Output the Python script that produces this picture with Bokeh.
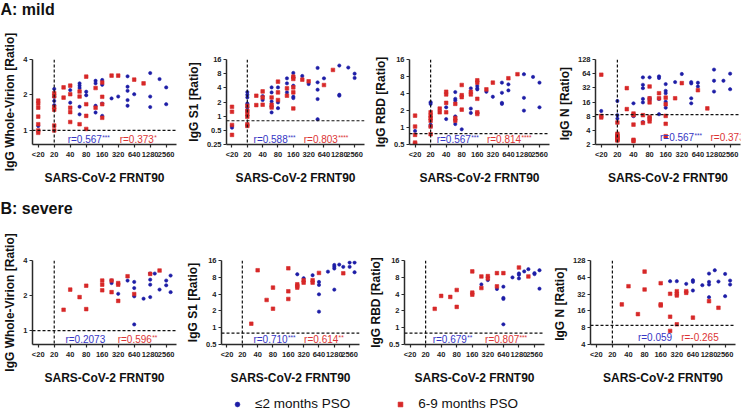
from bokeh.plotting import figure
from bokeh.models import (Range1d, FixedTicker, CustomJSTickFormatter, Span, Label,
                          Legend, LegendItem)
from bokeh.layouts import column, row
from bokeh.embed import file_html
from bokeh.resources import INLINE

# ---------------- data ----------------
X_TICKS = [10, 20, 40, 80, 160, 320, 640, 1280, 2560]
X_LABEL = "SARS-CoV-2 FRNT90"
SERIES_NAMES = ["≤2 months PSO", "6-9 months PSO"]

# A: mild -- Whole-Virion
A1_BLUE_X = [10, 20, 20, 20, 20, 40, 40, 60, 60, 60, 60, 60, 80, 80, 120, 120, 120, 120,
             160, 160, 160, 160, 240, 320, 480, 480, 480, 480, 480, 640, 1280, 1280, 1280, 1920, 2560, 2560]
A1_BLUE_Y = [1.09, 2.25, 1.93, 1.78, 1.64, 2.20, 1.72, 2.51, 2.40, 2.29, 1.59, 1.37, 2.13, 1.99, 2.64, 2.51, 1.62, 1.42,
             2.68, 2.44, 1.69, 1.33, 1.87, 1.94, 2.88, 2.35, 2.17, 1.81, 1.62, 2.03, 3.07, 1.94, 1.58, 2.73, 2.32, 1.67]
A1_RED_X = [10, 10, 10, 10, 10, 10, 10, 20, 20, 20, 20, 20, 20, 30, 30, 40, 40, 40, 40, 40, 60, 60, 60,
            80, 80, 80, 80, 120, 120, 160, 160, 160, 160, 240, 320, 640, 960]
A1_RED_Y = [1.79, 1.69, 1.56, 1.31, 1.13, 1.0, 0.955, 2.07, 1.95, 1.58, 1.50, 1.10, 1.0, 2.32, 1.90, 2.40, 2.03, 1.56, 1.43, 1.18,
            2.14, 1.94, 1.13, 2.86, 1.67, 1.33, 1.03, 2.29, 1.56, 2.55, 1.93, 1.67, 1.28, 2.92, 2.92, 2.70, 2.51]

# A: mild -- S1
A2_BLUE_X = [10, 10, 20, 20, 20, 20, 20, 20, 40, 40, 60, 60, 60, 60, 60, 80, 80, 80, 120, 120, 120,
             160, 160, 160, 160, 160, 240, 320, 480, 480, 480, 480, 480, 640, 1280, 1280, 1280, 1920, 2560, 2560]
A2_BLUE_Y = [0.62, 0.57, 3.25, 2.85, 2.50, 1.86, 1.53, 1.30, 2.67, 2.20, 4.09, 3.20, 2.06, 1.58, 1.20, 4.09, 1.96, 1.48,
             6.37, 4.98, 3.20, 8.28, 6.69, 4.44, 2.59, 2.42, 7.14, 4.82, 10.6, 5.23, 3.65, 2.31, 0.86, 6.37,
             11.9, 2.85, 2.72, 10.8, 8.0, 6.48]
A2_RED_X = [10, 10, 10, 10, 20, 20, 20, 20, 20, 20, 30, 30, 40, 40, 40, 60, 60, 60, 80, 80, 80, 120, 120,
            160, 160, 160, 160, 160, 240, 320, 640, 960]
A2_RED_Y = [1.58, 1.24, 0.65, 0.40, 1.66, 1.30, 1.10, 0.97, 0.67, 0.62, 2.72, 1.72, 3.36, 2.50, 1.75, 2.50, 1.75, 1.53,
            5.41, 3.20, 2.20, 3.90, 2.72, 6.91, 6.17, 4.09, 3.20, 1.46, 5.97, 5.50, 4.59, 9.6]

# A: mild -- RBD
A3_BLUE_X = [10, 20, 20, 20, 20, 40, 40, 60, 60, 60, 60, 60, 60, 80, 120, 120, 120, 160, 160, 160, 160,
             240, 320, 480, 480, 480, 480, 640, 640, 1280, 1280, 1280, 1920, 2560, 2560]
A3_BLUE_Y = [0.87, 2.81, 2.62, 1.12, 1.04, 2.28, 1.41, 4.24, 3.22, 3.0, 1.57, 1.37, 1.15, 0.93, 4.93, 2.16, 1.81,
             5.43, 4.93, 4.73, 1.81, 4.30, 3.50, 6.23, 4.12, 2.73, 2.62, 5.81, 4.54, 8.78, 3.35, 1.99, 7.87, 6.23, 2.28]
A3_RED_X = [10, 10, 10, 10, 10, 20, 20, 20, 20, 20, 20, 30, 30, 40, 40, 40, 40, 60, 60, 60, 80, 80, 80, 80,
            120, 120, 160, 160, 160, 160, 160, 240, 320, 640, 960]
A3_RED_Y = [1.62, 1.04, 0.74, 0.54, 0.51, 1.86, 1.62, 1.47, 1.32, 1.04, 0.76, 2.16, 1.86, 4.30, 3.85, 2.73, 1.86,
            2.62, 1.47, 1.32, 5.66, 3.74, 3.45, 2.07, 4.30, 3.85, 6.86, 6.23, 3.22, 1.86, 1.73, 4.73, 6.23, 7.45, 8.78]

# A: mild -- N
A4_BLUE_X = [10, 20, 20, 20, 40, 40, 60, 60, 60, 60, 60, 60, 80, 80, 80, 120, 120, 120, 120,
             160, 160, 160, 160, 160, 240, 320, 480, 480, 480, 480, 640, 640, 1280, 1280, 1280, 1920, 2560, 2560]
A4_BLUE_Y = [10.3, 16.8, 8.4, 7.1, 15.0, 8.0, 53.4, 37.1, 31.5, 18.6, 15.7, 6.0, 53.4, 19.2, 17.7, 56.1, 51.7, 18.6, 8.8,
             38.4, 27.6, 24.6, 16.3, 12.1, 42.4, 63, 42.4, 39.7, 19.2, 15.0, 41.0, 34.2, 78, 45.3, 26.7, 45.3, 64, 29.9]
A4_RED_X = [10, 10, 10, 20, 20, 20, 20, 20, 20, 20, 20, 30, 30, 40, 40, 40, 40, 40, 60, 60,
            80, 80, 80, 80, 80, 80, 120, 120, 160, 160, 160, 160, 160, 240, 320, 640, 960]
A4_RED_Y = [60.9, 8.1, 7.5, 5.85, 3.39, 3.12, 2.97, 2.78, 2.65, 2.53, 2.44, 31.5, 11.3, 9.1, 8.4, 5.3, 2.52, 2.36,
            8.4, 5.75, 34.2, 19.2, 15.7, 7.7, 7.1, 6.2, 24.6, 19.2, 19.8, 14.3, 8.1, 5.5, 3.0, 19.2, 40.3, 28.5, 11.7]

# B: severe -- Whole-Virion
B1_BLUE_X = [240, 240, 320, 480, 640, 640, 640, 640, 960, 1280, 1280, 1280, 1280, 1560, 1920, 2560, 2560, 3100, 3100]
B1_BLUE_Y = [2.69, 2.56, 2.07, 2.69, 2.62, 2.32, 1.97, 1.13, 1.88, 3.09, 2.74, 2.48, 1.94, 3.09, 2.25, 2.69, 2.45, 2.97, 2.14]
B1_RED_X = [30, 40, 60, 80, 80, 160, 160, 160, 240, 240, 320, 320, 320, 480, 640, 1280, 1920]
B1_RED_Y = [1.51, 2.25, 1.94, 2.43, 1.53, 2.69, 2.48, 2.22, 2.69, 2.14, 2.56, 2.48, 1.80, 2.93, 2.06, 3.07, 3.28]

# B: severe -- S1
B2_BLUE_X = [240, 320, 480, 640, 640, 640, 640, 960, 1280, 1280, 1280, 1280, 1600, 1920, 2560, 2560, 3200, 3200]
B2_BLUE_Y = [9.07, 7.69, 8.70, 6.61, 5.84, 3.97, 1.94, 10.1, 13.3, 12.4, 11.5, 4.81, 13.5, 12.3, 14.7, 12.3, 14.7, 9.85]
B2_RED_X = [30, 40, 60, 80, 80, 160, 160, 160, 240, 240, 240, 320, 320, 480, 480, 640, 1920]
B2_RED_Y = [1.18, 10.7, 3.14, 5.23, 2.19, 11.6, 4.49, 3.27, 6.0, 5.6, 5.23, 7.08, 6.43, 7.08, 6.43, 9.58, 9.45]

# B: severe -- RBD
B3_BLUE_X = [240, 320, 480, 640, 640, 640, 640, 960, 1280, 1280, 1280, 1620, 1950, 2560, 2560, 3200, 3200]
B3_BLUE_Y = [5.97, 7.13, 4.94, 5.43, 3.41, 3.28, 1.15, 7.96, 9.37, 8.87, 7.64, 10.2, 11.2, 9.50, 9.12, 10.7, 5.0]
B3_RED_X = [30, 40, 60, 80, 80, 160, 160, 160, 240, 240, 320, 320, 480, 480, 640, 1280, 1950]
B3_RED_Y = [2.18, 3.71, 3.56, 4.74, 2.36, 10.2, 4.25, 3.91, 8.29, 5.14, 8.40, 7.64, 9.50, 5.50, 9.50, 11.98, 8.29]

# B: severe -- N
B4_BLUE_X = [240, 320, 480, 640, 640, 640, 960, 1280, 1280, 1280, 1280, 1640, 1920, 2560, 2560, 3170, 3170]
B4_BLUE_Y = [54.5, 54.5, 48.8, 56.7, 53.0, 37.1, 46.2, 74.6, 53.0, 47.5, 28.2, 85.6, 53.7, 73.5, 29.4, 55.9, 47.5]
B4_RED_X = [30, 40, 60, 80, 80, 160, 160, 160, 240, 240, 240, 320, 320, 320, 320, 480, 480, 640, 1280, 1920]
B4_RED_Y = [20.9, 44.3, 14.0, 81, 38.7, 50.2, 20.9, 20.0, 32.4, 12.6, 7.0, 36.1, 32.4, 30.2, 9.2, 36.1, 33.7, 12.1, 23.9, 18.2]

# correlation texts (blue, red): (text, significance stars)
R_TEXTS = {
    "A1": (("r=0.567", "***"), ("r=0.373", "*")),
    "A2": (("r=0.588", "***"), ("r=0.803", "****")),
    "A3": (("r=0.567", "***"), ("r=0.814", "****")),
    "A4": (("r=0.567", "***"), ("r=0.373", "*")),
    "B1": (("r=0.2073", ""), ("r=0.596", "**")),
    "B2": (("r=0.710", "***"), ("r=0.614", "**")),
    "B3": (("r=0.679", "**"), ("r=0.807", "***")),
    "B4": (("r=0.059", ""), ("r=-0.265", "")),
}

# ---------------- styling ----------------
FONT = "Liberation Sans"
BLUE = "#1d1da6"
RED = "#d62828"
BLUE_T = "#3535c4"
RED_T = "#dc3434"
AXIS_C = "#2a2a2a"

CHAR_W = {"r": 333, "=": 584, ".": 278, "-": 333}


def text_width(s, size):
    return sum(CHAR_W.get(c, 556) for c in s) * size / 1000.0


def panel(ylabel, ylo, yhi, yticks, cutoff, bx, by, rx, ry, rtexts, rpos, r_yoff,
          fw, fh, left, right, top, bottom):
    p = figure(frame_width=fw, frame_height=fh, x_axis_type="log", y_axis_type="log",
               x_range=Range1d(7.8, 4000), y_range=Range1d(ylo, yhi),
               output_backend="svg", toolbar_location=None, title=None,
               min_border_left=left, min_border_right=right,
               min_border_top=top, min_border_bottom=bottom)
    p.grid.visible = False
    p.outline_line_color = None

    for ax in (p.xaxis[0], p.yaxis[0]):
        ax.axis_line_color = AXIS_C
        ax.axis_line_width = 1.5
        ax.major_tick_line_color = AXIS_C
        ax.major_tick_line_width = 1.2
        ax.major_tick_in = 0
        ax.major_tick_out = 3
        ax.minor_tick_in = 0
        ax.minor_tick_out = 0
        ax.major_label_text_font = FONT
        ax.major_label_text_font_style = "bold"
        ax.major_label_text_font_size = "7.5px"
        ax.major_label_text_color = "#222222"
        ax.major_label_standoff = 2
        ax.axis_label_text_font = FONT
        ax.axis_label_text_font_style = "bold"
        ax.axis_label_text_font_size = "12px"
        ax.axis_label_text_color = "#111111"

    p.xaxis.ticker = FixedTicker(ticks=X_TICKS, minor_ticks=[])
    p.xaxis.formatter = CustomJSTickFormatter(code="return tick < 15 ? '<20' : String(tick);")
    p.xaxis.axis_label = X_LABEL
    p.xaxis.axis_label_standoff = 9
    p.yaxis.ticker = FixedTicker(ticks=yticks, minor_ticks=[])
    p.yaxis.formatter = CustomJSTickFormatter(code="return String(Math.round(tick*100)/100);")
    p.yaxis.axis_label = ylabel
    p.yaxis.axis_label_standoff = 3

    p.add_layout(Span(location=20, dimension="height", line_dash="3 2",
                      line_color="#111111", line_width=1.2))
    p.add_layout(Span(location=cutoff, dimension="width", line_dash="3 2",
                      line_color="#111111", line_width=1.2))

    p.scatter(bx, by, marker="circle", size=3.3, color=BLUE, line_width=0.6)
    p.scatter(rx, ry, marker="square", size=3.6, color=RED, line_width=0.6)

    fs = 10
    for (txt, stars), xpos, col in zip(rtexts, rpos, (BLUE_T, RED_T)):
        p.add_layout(Label(x=xpos, y=ylo, y_offset=r_yoff, text=txt, text_color=col,
                           text_font=FONT, text_font_size=f"{fs}px",
                           text_baseline="bottom"))
        if stars:
            p.add_layout(Label(x=xpos, y=ylo, x_offset=text_width(txt, fs) + 0.3,
                               y_offset=r_yoff + 4, text=stars, text_color=col,
                               text_font=FONT, text_font_size="6.5px",
                               text_baseline="bottom"))
    return p


def title_fig(text, height, yoff, width):
    p = figure(width=width, height=height, x_range=Range1d(0, 1), y_range=Range1d(0, 1),
               x_axis_location=None, y_axis_location=None, min_border=0,
               output_backend="svg", toolbar_location=None, title=None)
    p.grid.visible = False
    p.outline_line_color = None
    p.add_layout(Label(x=0, y=1, y_offset=-yoff, text=text, text_font=FONT,
                       text_font_size="16px", text_font_style="bold",
                       text_baseline="top", text_color="#111111"))
    return p


# column geometry (frame width, left, right borders)
COLS = [(144, 26, 7), (138, 37, 7), (140, 38, 5), (145, 39, 10)]
TOTAL_W = sum(a + b + c for a, b, c in COLS)

ylabels = ["IgG Whole-Virion [Ratio]", "IgG S1 [Ratio]", "IgG RBD [Ratio]", "IgG  N [Ratio]"]

A_specs = [
    (0.76, 4, [1, 2, 4], 1.0, A1_BLUE_X, A1_BLUE_Y, A1_RED_X, A1_RED_Y, R_TEXTS["A1"], (35.8, 341), 0),
    (0.25, 16, [0.25, 0.5, 1, 2, 4, 8, 16], 0.8, A2_BLUE_X, A2_BLUE_Y, A2_RED_X, A2_RED_Y, R_TEXTS["A2"], (26.5, 256), 0),
    (0.5, 16, [0.5, 1, 2, 4, 8, 16], 0.78, A3_BLUE_X, A3_BLUE_Y, A3_RED_X, A3_RED_Y, R_TEXTS["A3"], (26.2, 246), 0),
    (2, 128, [2, 4, 8, 16, 32, 64, 128], 8.6, A4_BLUE_X, A4_BLUE_Y, A4_RED_X, A4_RED_Y, R_TEXTS["A4"], (125, 1100), 2),
]
B_specs = [
    (0.76, 4, [1, 2, 4], 1.0, B1_BLUE_X, B1_BLUE_Y, B1_RED_X, B1_RED_Y, R_TEXTS["B1"], (32.5, 313), 0),
    (0.5, 16, [0.5, 1, 2, 4, 8, 16], 0.8, B2_BLUE_X, B2_BLUE_Y, B2_RED_X, B2_RED_Y, R_TEXTS["B2"], (33, 327), 0),
    (0.5, 16, [0.5, 1, 2, 4, 8, 16], 0.8, B3_BLUE_X, B3_BLUE_Y, B3_RED_X, B3_RED_Y, R_TEXTS["B3"], (27.4, 283), 0),
    (4, 128, [4, 8, 16, 32, 64, 128], 8.8, B4_BLUE_X, B4_BLUE_Y, B4_RED_X, B4_RED_Y, R_TEXTS["B4"], (60, 386), 2),
]

row_a = []
for (fw, l, r), yl, spec in zip(COLS, ylabels, A_specs):
    row_a.append(panel(yl, *spec, fw=fw, fh=85, left=l, right=r, top=39, bottom=44))
row_b = []
for (fw, l, r), yl, spec in zip(COLS, ylabels, B_specs):
    row_b.append(panel(yl, *spec, fw=fw, fh=84, left=l, right=r, top=42, bottom=42))

# legend strip (proxy renderers use series data that lies outside this strip's ranges)
leg = figure(width=TOTAL_W, height=27, x_range=Range1d(0, 1), y_range=Range1d(0, 1),
             x_axis_location=None, y_axis_location=None, min_border=0,
             output_backend="svg", toolbar_location=None, title=None)
leg.grid.visible = False
leg.outline_line_color = None
r_blue = leg.scatter(A1_BLUE_X, A1_BLUE_Y, marker="circle", size=3.5, color=BLUE, line_width=0.6)
r_red = leg.scatter(A1_RED_X, A1_RED_Y, marker="square", size=3.9, color=RED, line_width=0.6)
legend = Legend(items=[LegendItem(label=SERIES_NAMES[0], renderers=[r_blue]),
                       LegendItem(label=SERIES_NAMES[1], renderers=[r_red])],
                orientation="horizontal", location=(231, 3),
                label_text_font=FONT, label_text_font_size="13.5px", label_text_color="#111111",
                glyph_width=12, glyph_height=12, label_height=14, label_standoff=12,
                spacing=44, padding=0, margin=0, border_line_color=None,
                background_fill_alpha=0)
leg.add_layout(legend)

layout = column(title_fig("A: mild", 20, 0, TOTAL_W), row(*row_a),
                title_fig("B: severe", 30, 11, TOTAL_W), row(*row_b), leg)

open("out.html", "w").write(file_html(layout, INLINE))
